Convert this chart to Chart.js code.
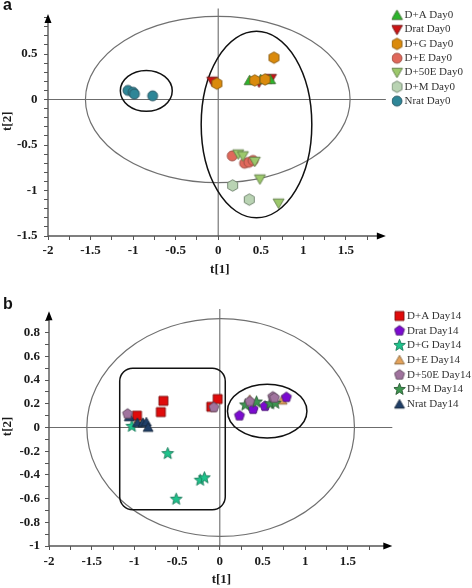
<!DOCTYPE html>
<html>
<head>
<meta charset="utf-8">
<script src="https://cdn.jsdelivr.net/npm/chart.js@4.4.0/dist/chart.umd.min.js"></script>
<style>
html, body { margin: 0; padding: 0; background: #fff; }
#wrap { position: relative; width: 472px; height: 588px; overflow: hidden; }
canvas { position: absolute; left: 0; }
#ca { top: 0; }
#cb { top: 290px; }
.tag { position: absolute; left: 3px; font: bold 16px "Liberation Sans", Arial, sans-serif; line-height: 16px; color: #111; }
</style>
</head>
<body>
<div id="wrap">
  <canvas id="ca" width="472" height="290"></canvas>
  <canvas id="cb" width="472" height="298"></canvas>
  <div class="tag" style="top:-3px">a</div>
  <div class="tag" style="top:296px">b</div>
</div>
<script>
// tick values and labels
const xMajorTicks = [-2, -1.5, -1, -0.5, 0, 0.5, 1, 1.5];
const xTickLabels = ['-2', '-1.5', '-1', '-0.5', '0', '0.5', '1', '1.5'];
const yMajorTicksA = [-1.5, -1, -0.5, 0, 0.5];
const yTickLabelsA = ['-1.5', '-1', '-0.5', '0', '0.5'];
const yMajorTicksB = [-1, -0.8, -0.6, -0.4, -0.2, 0, 0.2, 0.4, 0.6, 0.8];
const yTickLabelsB = ['-1', '-0.8', '-0.6', '-0.4', '-0.2', '0', '0.2', '0.4', '0.6', '0.8'];

// panel a, day 0 scores [t1, t2]
const dA_day0   = [[0.37, 0.21], [0.50, 0.22], [0.61, 0.22]];
const drat_day0 = [[-0.07, 0.20], [0.48, 0.19], [0.62, 0.23]];
const dG_day0   = [[-0.015, 0.175], [0.43, 0.21], [0.55, 0.22], [0.655, 0.46]];
const dE_day0   = [[0.165, -0.62], [0.31, -0.70], [0.36, -0.69], [0.41, -0.67]];
const d50E_day0 = [[0.235, -0.60], [0.29, -0.62], [0.43, -0.68], [0.49, -0.875], [0.71, -1.14]];
const dM_day0   = [[0.17, -0.945], [0.365, -1.10]];
const nrat_day0 = [[-1.06, 0.10], [-1.0, 0.08], [-0.985, 0.06], [-0.77, 0.04]];

// panel b, day 14 scores [t1, t2]
const dA_day14   = [[-0.97, 0.10], [-0.69, 0.13], [-0.66, 0.225], [-0.10, 0.175], [-0.025, 0.24]];
const drat_day14 = [[0.23, 0.10], [0.39, 0.155], [0.53, 0.18], [0.78, 0.255]];
const dG_day14   = [[-1.03, 0.01], [-0.61, -0.22], [-0.23, -0.445], [-0.18, -0.425], [-0.51, -0.605]];
const dE_day14   = [[-0.95, 0.07], [0.35, 0.235], [0.73, 0.23]];
const d50E_day14 = [[-1.08, 0.115], [-0.07, 0.17], [0.35, 0.22], [0.62, 0.26], [0.64, 0.25]];
const dM_day14   = [[0.30, 0.19], [0.43, 0.215], [0.59, 0.20], [0.65, 0.205]];
const nrat_day14 = [[-1.06, 0.09], [-0.965, 0.04], [-0.90, 0.04], [-0.86, 0.045], [-0.84, 0.0]];

const SERIF = '"Times New Roman", "Liberation Serif", serif';
Chart.defaults.font.family = SERIF;

// small canvases used as point styles
function marker(shape, size, fill, stroke) {
  const pad = 2, s = Math.ceil(size + pad * 2);
  const c = document.createElement('canvas');
  c.width = c.height = s;
  const g = c.getContext('2d');
  const m = s / 2, r = size / 2;
  const poly = (n, R, start, inner) => {
    const k = inner ? n * 2 : n;
    for (let i = 0; i < k; i++) {
      const a = (start + i * 360 / k) * Math.PI / 180;
      const rr = inner && i % 2 ? inner : R;
      const px = m + rr * Math.cos(a), py = m + rr * Math.sin(a);
      i ? g.lineTo(px, py) : g.moveTo(px, py);
    }
    g.closePath();
  };
  g.beginPath();
  if (shape === 'circle') g.arc(m, m, r, 0, Math.PI * 2);
  else if (shape === 'square') g.rect(m - r, m - r, size, size);
  else if (shape === 'tri') { g.translate(0, r * 0.2); poly(3, r * 1.15, -90); }
  else if (shape === 'tridown') { g.translate(0, -r * 0.2); poly(3, r * 1.15, 90); }
  else if (shape === 'hex') poly(6, r * 1.05, -90);
  else if (shape === 'pent') poly(5, r * 1.05, -90);
  else if (shape === 'star') poly(5, r * 1.12, -90, r * 0.48);
  g.fillStyle = fill;
  g.fill();
  g.lineWidth = 0.9;
  g.strokeStyle = stroke;
  g.stroke();
  return c;
}

function makeDecor(p) {
  return {
    id: 'decor',
    beforeDatasetsDraw(chart) {
      const { ctx, scales: { x, y } } = chart;
      const px = v => x.getPixelForValue(v), py = v => y.getPixelForValue(v);
      ctx.save();
      // zero lines
      ctx.strokeStyle = '#6c6c6c';
      ctx.lineWidth = 1.1;
      ctx.beginPath();
      ctx.moveTo(px(-2), py(0)); ctx.lineTo(px(p.xEnd), py(0));
      ctx.moveTo(px(0), py(p.crossTop)); ctx.lineTo(px(0), py(p.yMin));
      ctx.stroke();
      // confidence ellipse and groups
      p.ellipses.forEach(e => {
        const cx = px(e.cx), cy = py(e.cy);
        ctx.beginPath();
        ctx.ellipse(cx, cy, Math.abs(px(e.cx + e.rx) - cx), Math.abs(py(e.cy + e.ry) - cy), 0, 0, Math.PI * 2);
        ctx.strokeStyle = e.color;
        ctx.lineWidth = e.width;
        ctx.stroke();
      });
      if (p.box) {
        const b = p.box;
        const l = px(b.x0), r = px(b.x1), t = py(b.y1), bt = py(b.y0), rad = 13;
        ctx.beginPath();
        ctx.moveTo(l + rad, t);
        ctx.arcTo(r, t, r, bt, rad);
        ctx.arcTo(r, bt, l, bt, rad);
        ctx.arcTo(l, bt, l, t, rad);
        ctx.arcTo(l, t, r, t, rad);
        ctx.closePath();
        ctx.strokeStyle = '#111';
        ctx.lineWidth = 1.5;
        ctx.stroke();
      }
      // axes with arrow heads
      const ox = px(-2), oy = py(p.yMin), xe = px(p.xEnd), ye = py(p.yEnd);
      ctx.strokeStyle = '#555';
      ctx.lineWidth = 1.4;
      ctx.beginPath();
      ctx.moveTo(ox, oy); ctx.lineTo(xe - 6, oy);
      ctx.moveTo(ox, oy); ctx.lineTo(ox, ye + 6);
      ctx.stroke();
      ctx.fillStyle = '#000';
      ctx.beginPath();
      ctx.moveTo(xe, oy); ctx.lineTo(xe - 9, oy - 3.5); ctx.lineTo(xe - 9, oy + 3.5); ctx.closePath();
      ctx.moveTo(ox, ye); ctx.lineTo(ox - 3.5, ye + 9); ctx.lineTo(ox + 3.5, ye + 9); ctx.closePath();
      ctx.fill();
      ctx.restore();
    }
  };
}

function stepTicks(from, to, step) {
  const out = [];
  for (let i = 0; from + i * step <= to + 1e-9; i++) out.push(Math.round((from + i * step) * 1000) / 1000);
  return out;
}

function buildPanel(id, p) {
  const canvas = document.getElementById(id);
  const xTicks = stepTicks(-2, 1.75, 0.25);
  const yTicks = stepTicks(p.yMin, p.yTickTop, 0.1);
  const labelOf = (majors, labels) => v => {
    const i = majors.findIndex(m => Math.abs(m - v) < 1e-6);
    return i < 0 ? '' : labels[i];
  };
  const chart = new Chart(canvas, {
    type: 'scatter',
    data: {
      datasets: p.series.map(s => ({
        label: s.label,
        data: s.data.map(([x, y]) => ({ x, y })),
        pointStyle: marker(s.shape, s.size, s.fill, s.stroke),
        pointRadius: s.size / 2,
        pointHoverRadius: s.size / 2,
        order: s.top ? 0 : 1
      }))
    },
    options: {
      responsive: false,
      animation: false,
      events: [],
      layout: { padding: { left: 0, top: p.padTop, right: 10, bottom: p.padBottom } },
      plugins: {
        tooltip: { enabled: false },
        legend: {
          position: 'right',
          align: 'start',
          labels: {
            usePointStyle: true,
            boxWidth: 4,
            boxHeight: p.legendFont,
            padding: p.legendGap,
            color: '#333',
            font: { family: SERIF, size: p.legendFont },
            sort: (a, b) => a.datasetIndex - b.datasetIndex
          }
        }
      },
      scales: {
        x: {
          type: 'linear', position: 'bottom', min: -2, max: 2,
          border: { display: false },
          grid: { drawOnChartArea: false, drawTicks: true, tickLength: 4, tickColor: '#555', tickWidth: 1 },
          ticks: {
            autoSkip: false, maxRotation: 0, minRotation: 0, padding: p.xTickPad,
            color: '#1a1a1a', font: { family: SERIF, size: 13, weight: 'bold' },
            callback: labelOf(xMajorTicks, xTickLabels)
          },
          title: { display: true, text: 't[1]', color: '#1a1a1a', padding: 0,
                   font: { family: SERIF, size: 13, weight: 'bold' } },
          afterBuildTicks: s => { s.ticks = xTicks.map(v => ({ value: v })); },
          afterFit: s => { s.height = p.xAxisH; s.paddingLeft = 0; s.paddingRight = 0; }
        },
        y: {
          type: 'linear', position: 'left', min: p.yMin, max: 1,
          border: { display: false },
          grid: { drawOnChartArea: false, drawTicks: true, tickLength: 4, tickColor: '#555', tickWidth: 1 },
          ticks: {
            autoSkip: false, padding: p.yTickPad,
            color: '#1a1a1a', font: { family: SERIF, size: 13, weight: 'bold' },
            callback: labelOf(p.yMajors, p.yLabels)
          },
          title: { display: true, text: 't[2]', color: '#1a1a1a', padding: 0,
                   font: { family: SERIF, size: 13, weight: 'bold' } },
          afterBuildTicks: s => { s.ticks = yTicks.map(v => ({ value: v })); },
          afterFit: s => { s.width = p.yAxisW; s.paddingTop = 0; s.paddingBottom = 0; }
        }
      }
    },
    plugins: [makeDecor(p)]
  });
  // place legend, then fit scale ranges to the chart area
  const wantLeft = p.legendX - p.legendGap - 2;
  chart.options.layout.padding.right += chart.legend.left - wantLeft;
  chart.update('none');
  const ca = chart.chartArea;
  chart.options.scales.x.max = -2 + (ca.right - ca.left) / p.unitX;
  chart.options.scales.y.max = p.yMin + (ca.bottom - ca.top) / p.unitY;
  chart.update('none');
  return chart;
}

buildPanel('ca', {
  yMin: -1.5, yTickTop: 0.9, yMajors: yMajorTicksA, yLabels: yTickLabelsA,
  unitX: 85.1, unitY: 91.0, yAxisW: 48, xAxisH: 41.8, padTop: 6.5, padBottom: 12.2,
  xTickPad: 3, yTickPad: 6.5, legendFont: 11, legendGap: 3.3, legendX: 397,
  xEnd: 1.97, yEnd: 0.94, crossTop: 1.0,
  ellipses: [
    { cx: -0.005, cy: 0, rx: 1.555, ry: 0.914, color: '#707070', width: 1.2 },
    { cx: -0.845, cy: 0.095, rx: 0.305, ry: 0.225, color: '#111', width: 1.5 },
    { cx: 0.45, cy: -0.275, rx: 0.65, ry: 1.025, color: '#111', width: 1.5 }
  ],
  series: [
    { label: 'D+A Day0', data: dA_day0, shape: 'tri', size: 11, fill: '#2cb52c', stroke: '#3d6b2e' },
    { label: 'Drat Day0', data: drat_day0, shape: 'tridown', size: 11, fill: '#cc1414', stroke: '#6e1d1d' },
    { label: 'D+G Day0', data: dG_day0, shape: 'hex', size: 11, fill: '#da8a0c', stroke: '#8a5c14', top: true },
    { label: 'D+E Day0', data: dE_day0, shape: 'circle', size: 10, fill: '#e0685b', stroke: '#9a4c42' },
    { label: 'D+50E Day0', data: d50E_day0, shape: 'tridown', size: 11, fill: '#9cc86b', stroke: '#5f7a46', top: true },
    { label: 'D+M Day0', data: dM_day0, shape: 'hex', size: 11, fill: '#b9d3b3', stroke: '#6d806b' },
    { label: 'Nrat Day0', data: nrat_day0, shape: 'circle', size: 10, fill: '#2e8697', stroke: '#2a5561' }
  ]
});

buildPanel('cb', {
  yMin: -1, yTickTop: 0.9, yMajors: yMajorTicksB, yLabels: yTickLabelsB,
  unitX: 85.4, unitY: 118.5, yAxisW: 49, xAxisH: 41.8, padTop: 16.8, padBottom: 0.2,
  xTickPad: 4, yTickPad: 5, legendFont: 11, legendGap: 3.7, legendX: 399.5,
  xEnd: 2.02, yEnd: 0.98, crossTop: 1.0,
  box: { x0: -1.172, x1: 0.064, y0: -0.694, y1: 0.5 },
  ellipses: [
    { cx: 0.01, cy: 0, rx: 1.567, ry: 0.919, color: '#707070', width: 1.2 },
    { cx: 0.555, cy: 0.138, rx: 0.465, ry: 0.227, color: '#111', width: 1.5 }
  ],
  series: [
    { label: 'D+A Day14', data: dA_day14, shape: 'square', size: 9, fill: '#e00b0b', stroke: '#7a1212' },
    { label: 'Drat Day14', data: drat_day14, shape: 'pent', size: 10, fill: '#7b0ad0', stroke: '#4b1a70' },
    { label: 'D+G Day14', data: dG_day14, shape: 'star', size: 11, fill: '#1fc38c', stroke: '#1a7a5a' },
    { label: 'D+E Day14', data: dE_day14, shape: 'tri', size: 10, fill: '#e4a25a', stroke: '#8a6a40' },
    { label: 'D+50E Day14', data: d50E_day14, shape: 'pent', size: 10, fill: '#a0739e', stroke: '#5e4a5c', top: true },
    { label: 'D+M Day14', data: dM_day14, shape: 'star', size: 11, fill: '#3d9650', stroke: '#2c5a35', top: true },
    { label: 'Nrat Day14', data: nrat_day14, shape: 'tri', size: 10, fill: '#203f68', stroke: '#16283d', top: true }
  ]
});
</script>
</body>
</html>
